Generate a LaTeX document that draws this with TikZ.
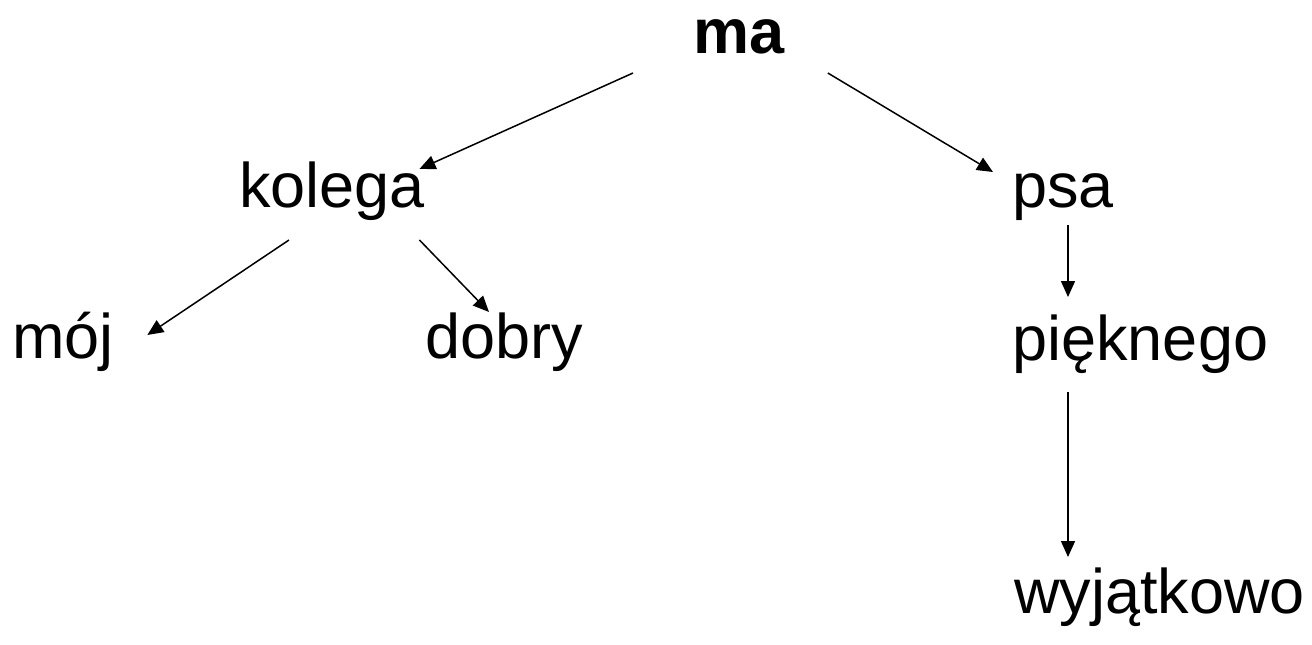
\documentclass[tikz,border=0pt]{standalone}
\usepackage{fontspec}
\setmainfont{Liberation Sans}
\usepackage{tikz}
\usetikzlibrary{positioning,calc,arrows.meta}

\begin{document}
\begin{tikzpicture}[
    x=0.5pt, y=-0.5pt,
    word/.style={inner sep=0pt, anchor=base west, font=\fontsize{31.5}{38}\selectfont},
    arrow/.style={-{Triangle[length=8pt, width=7pt]}, line width=0.75pt}
]
\useasboundingbox (0,0) rectangle (1312,644);

% Root
\node[word, font=\fontsize{31.5}{38}\selectfont\bfseries] (ma) at (693,53) {ma};

% Second level
\node[word] (kolega) at (239,207) {kolega};
\node[word] (psa) at (1012,207) {psa};

% Third level
\node[word] (moj) at (12,358) {mój};
\node[word] (dobry) at (425,358) {dobry};
\node[word] (pieknego) at (1012,360) {pięknego};

% Fourth level
\node[word] (wyjatkowo) at (1014,613) {wyjątkowo};

% Arrows from heads to dependents
\draw[arrow] ($(ma.base west)+(-60,20)$) -- ($(kolega.base east)+(-6,-38)$);
\draw[arrow] ($(ma.base east)+(43,20)$) -- ($(psa.base west)+(-19,-35)$);
\draw[arrow] ($(kolega.base west)+(50,33)$) -- ($(moj.base east)+(33,-23)$);
\draw[arrow] ($(kolega.base east)+(-6,33)$) -- ($(dobry.base west)+(64,-46)$);
\draw[arrow] ($(psa.base west)+(56,18)$) -- ($(pieknego.base west)+(56,-63)$);
\draw[arrow] ($(pieknego.base west)+(56,32)$) -- ($(wyjatkowo.base west)+(54,-56)$);

\end{tikzpicture}
\end{document}
